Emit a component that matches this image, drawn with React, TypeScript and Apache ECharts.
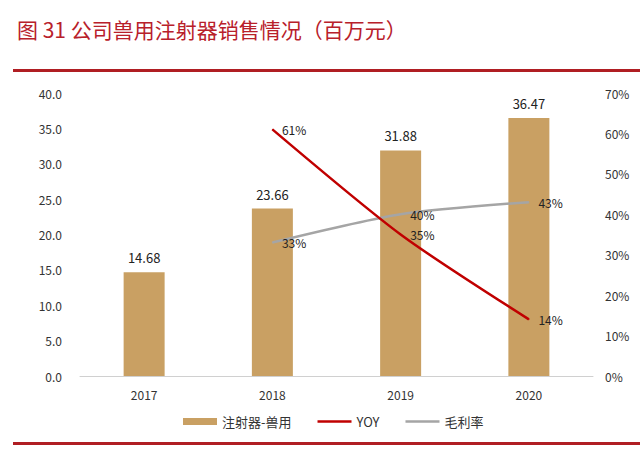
import React, { useEffect, useRef } from "react";
import * as echarts from "echarts";

const years = ["2017", "2018", "2019", "2020"];
const sales = [14.68, 23.66, 31.88, 36.47];
const yoy = [null, 61, 35, 14];
const margin = [null, 33, 40, 43];
const leftTicks = [0, 5, 10, 15, 20, 25, 30, 35, 40];
const rightTicks = [0, 10, 20, 30, 40, 50, 60, 70];

const FONT = "'Noto Sans CJK SC', 'Noto Sans', sans-serif";
const LINE_ICON = "path://M0,0H34V2.6H0Z";

export default function App() {
  const ref = useRef<HTMLDivElement>(null);
  useEffect(() => {
    if (!ref.current) return;
    const chart = echarts.init(ref.current, null, { renderer: "svg" });
    const lineLabel = {
      show: true,
      position: "right",
      distance: 9,
      color: "#222",
      fontSize: 12,
      formatter: (p: any) => p.value + "%",
    };
    chart.setOption({
      animation: false,
      backgroundColor: "#ffffff",
      textStyle: { fontFamily: FONT },
      graphic: [
        {
          type: "text",
          left: 17,
          top: 18,
          style: {
            text: "图 31 公司兽用注射器销售情况（百万元）",
            fill: "#B8202A",
            font: `21px ${FONT}`,
          },
        },
        { type: "rect", shape: { x: 13, y: 69, width: 627, height: 3 }, style: { fill: "#B01E23" } },
        { type: "rect", shape: { x: 13, y: 442, width: 627, height: 3 }, style: { fill: "#B01E23" } },
      ],
      legend: {
        bottom: 16,
        left: 178,
        itemGap: 26,
        itemWidth: 34,
        itemHeight: 7,
        textStyle: { fontSize: 13, color: "#333", fontFamily: FONT },
        data: [
          { name: "注射器-兽用", icon: "rect" },
          { name: "YOY", icon: LINE_ICON, itemStyle: { color: "#C00000" } },
          { name: "毛利率", icon: LINE_ICON, itemStyle: { color: "#A5A5A5" } },
        ],
      },
      grid: { left: 80, right: 47, top: 93, bottom: 73 },
      xAxis: {
        type: "category",
        data: years,
        axisLine: { lineStyle: { color: "#D0D0D0" } },
        axisTick: { show: false },
        axisLabel: { color: "#333", fontSize: 12, margin: 12 },
      },
      yAxis: [
        {
          type: "value",
          min: leftTicks[0],
          max: leftTicks[leftTicks.length - 1],
          interval: 5,
          splitLine: { show: false },
          axisLine: { show: false },
          axisTick: { show: false },
          axisLabel: { color: "#333", fontSize: 12, margin: 18, formatter: (v: number) => v.toFixed(1) },
        },
        {
          type: "value",
          min: rightTicks[0],
          max: rightTicks[rightTicks.length - 1],
          interval: 10,
          splitLine: { show: false },
          axisLine: { show: false },
          axisTick: { show: false },
          axisLabel: { color: "#333", fontSize: 12, margin: 12, formatter: (v: number) => v + "%" },
        },
      ],
      series: [
        {
          name: "注射器-兽用",
          type: "bar",
          data: sales,
          barWidth: 41,
          itemStyle: { color: "#C9A063" },
          label: { show: true, position: "top", distance: 8, color: "#222", fontSize: 13, formatter: (p: any) => p.value.toFixed(2) },
        },
        {
          name: "YOY",
          type: "line",
          yAxisIndex: 1,
          data: yoy,
          smooth: 0.25,
          showSymbol: true,
          symbol: "circle",
          symbolSize: 1,
          lineStyle: { color: "#C00000", width: 2.5 },
          itemStyle: { color: "#C00000" },
          label: lineLabel,
          z: 3,
        },
        {
          name: "毛利率",
          type: "line",
          yAxisIndex: 1,
          data: margin,
          smooth: 0.25,
          showSymbol: true,
          symbol: "circle",
          symbolSize: 1,
          lineStyle: { color: "#A5A5A5", width: 2.5 },
          itemStyle: { color: "#A5A5A5" },
          label: lineLabel,
          z: 2,
        },
      ],
    });
    return () => chart.dispose();
  }, []);
  return <div ref={ref} style={{ position: "fixed", left: 0, top: 0, width: 640, height: 449 }} />;
}
